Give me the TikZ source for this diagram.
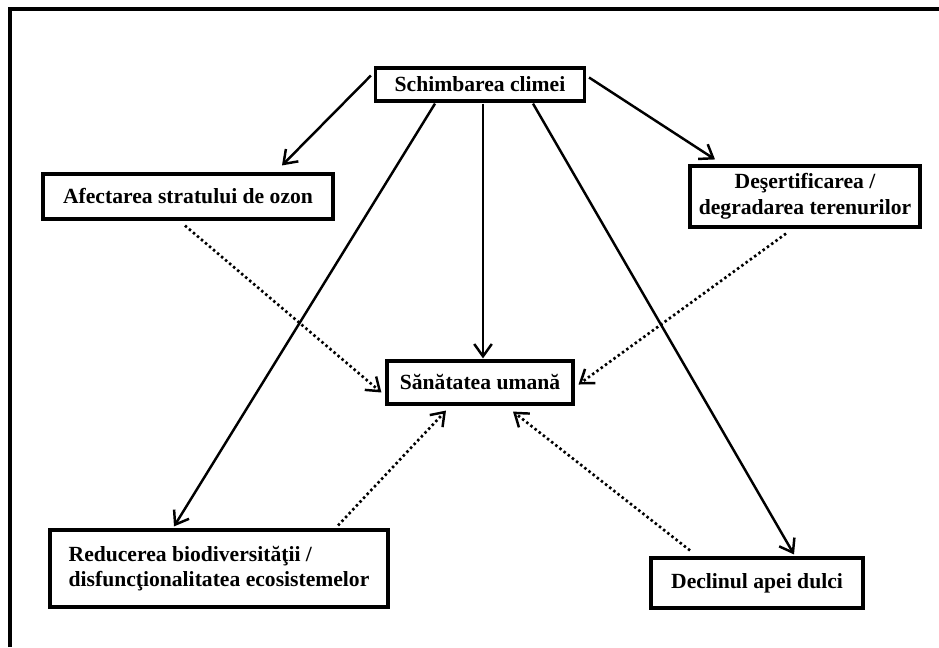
\documentclass[tikz,border=0pt]{standalone}
\usepackage{fontspec}
\setmainfont{Liberation Serif}
\usetikzlibrary{arrows.meta,calc}

\begin{document}
\begin{tikzpicture}[x=0.02cm,y=-0.02cm,
    box/.style={draw,line width=1.8pt,inner sep=2pt,
        font=\bfseries\fontsize{12.3}{14.5}\selectfont},
    cause/.style={-{Straight Barb[length=7pt,width=10pt,line width=1.4pt]},line width=1.4pt},
    effect/.style={cause,line width=1.5pt,dash pattern=on 1.4pt off 1.6pt}]
    \useasboundingbox (0,0) rectangle (939,647);
    % Frame
    \draw[line width=2.4pt] (10,647) -- (10,9) -- (939,9);

    % Top node
    \node[box,minimum width=4.18cm,minimum height=0.66cm] (clima) at (480,84.5) {Schimbarea climei};
    % Middle row
    \node[box,minimum width=5.8cm,minimum height=0.9cm] (ozon) at (188,196.5) {Afectarea stratului de ozon};
    \node[box,minimum width=4.6cm,minimum height=1.22cm,align=center] (desert) at (805,196.5)
        {Deşertificarea /\\degradarea terenurilor};
    \node[box,minimum width=3.72cm,minimum height=0.86cm] (san) at (480,382.5) {Sănătatea umană};
    % Bottom row
    \node[box,minimum width=6.76cm,minimum height=1.54cm,align=left] (bio) at (219,568.5)
        {Reducerea biodiversităţii /\\disfuncţionalitatea ecosistemelor};
    \node[box,minimum width=4.24cm,minimum height=1cm] (apa) at (757,583) {Declinul apei dulci};

    % Direct effects
    \draw[cause] ($(clima.west)+(-3,-9)$) -- ($(ozon.north)+(94,-7)$);
    \draw[cause] ($(clima.east)+(3,-7)$) -- ($(desert.north)+(-90,-5)$);
    \draw[cause] ($(clima.south)+(-45,1)$) -- ($(bio.north)+(-45,-2)$);
    \draw[cause] ($(clima.south)+(3,1)$) -- ($(san.north)+(3,-1)$);
    \draw[cause] ($(clima.south)+(53,1)$) -- ($(apa.north)+(37,-2)$);

    % Indirect effects
    \draw[effect] ($(ozon.south)+(-3,5)$) -- ($(san.west)+(-4,10)$);
    \draw[effect] ($(desert.south)+(-19,5)$) -- ($(san.east)+(4,2)$);
    \draw[effect] ($(bio.north)+(119,-3)$) -- ($(san.south)+(-34,5)$);
    \draw[effect] ($(apa.north)+(-67,-6)$) -- ($(san.south)+(33,6)$);
\end{tikzpicture}
\end{document}
